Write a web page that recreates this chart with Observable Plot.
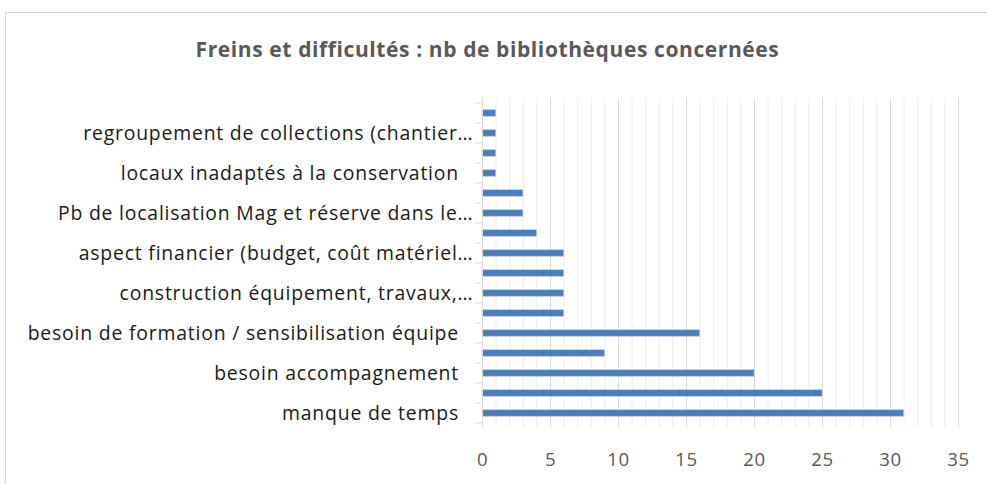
<!DOCTYPE html>
<html>
<head>
<meta charset="utf-8">
<script src="https://cdn.jsdelivr.net/npm/d3@7"></script>
<script src="https://cdn.jsdelivr.net/npm/@observablehq/plot@0.6"></script>
<style>
  html, body { margin: 0; padding: 0; background: #fff; overflow: hidden; width: 987px; height: 484px; }
  .edge { position: absolute; background: #d9d9d9; z-index: 5; pointer-events: none; }
  #edgeTop { left: 5px; top: 12px; width: 982px; height: 1px; }
  #edgeLeft { left: 5px; top: 12px; width: 1px; height: 472px; }
  #title { position: absolute; left: 0; top: 0; width: 987px; height: 88px; box-sizing: border-box; padding-top: 35px; padding-right: 12px; text-align: center; font-family: "Open Sans", sans-serif; font-weight: bold; font-size: 21px; letter-spacing: 0.6px; color: #595959; line-height: 28px; }
  #chart { position: absolute; left: 8px; top: 88px; }
  #chart svg [aria-label="y-axis tick label"] text { letter-spacing: 0.8px; }
  #chart svg [aria-label="x-axis tick label"] text { letter-spacing: 0.6px; }
</style>
</head>
<body>
<div id="title">Freins et difficultés : nb de bibliothèques concernées</div>
<div id="chart"></div>
<div class="edge" id="edgeTop"></div>
<div class="edge" id="edgeLeft"></div>
<script>
// Categories in Excel order (bottom to top). Only every other one is labelled in the picture.
const categories = [
  "manque de temps\u2002\u2009",
  "(catégorie 2)",
  "besoin accompagnement\u2002\u2009",
  "(catégorie 4)",
  "besoin de formation / sensibilisation équipe\u2002\u2009",
  "(catégorie 6)",
  "construction équipement, travaux,…",
  "(catégorie 8)",
  "aspect financier (budget, coût matériel…",
  "(catégorie 10)",
  "Pb de localisation Mag et réserve dans le…",
  "(catégorie 12)",
  "locaux inadaptés à la conservation\u2002\u2009",
  "(catégorie 14)",
  "regroupement de collections (chantier…",
  "(catégorie 16)"
];
const values = [31, 25, 20, 9, 16, 6, 6, 6, 6, 4, 3, 3, 1, 1, 1, 1];
const labelledCategories = categories.filter((d, i) => i % 2 === 0);
const xTicks = [0, 5, 10, 15, 20, 25, 30, 35];
const minorGrid = d3.range(0, 36);

const data = categories.map((c, i) => ({category: c, value: values[i]}));

const W = 979, H = 396;
const mTop = 10, mBottom = 57, mLeft = 474, mRight = 29;

const chart = Plot.plot({
  width: W,
  height: H,
  marginTop: mTop,
  marginBottom: mBottom,
  marginLeft: mLeft,
  marginRight: mRight,
  style: {fontFamily: "'Open Sans', sans-serif", background: "none", overflow: "visible"},
  x: {domain: [0, 35]},
  y: {domain: categories.slice().reverse(), padding: 0},
  marks: [
    Plot.ruleX(minorGrid.filter(d => d % 5 !== 0), {stroke: "#ececec", strokeWidth: 1}),
    Plot.ruleX(xTicks.filter(d => d !== 0), {stroke: "#d9d9d9", strokeWidth: 1}),
    Plot.barX(data, {x: "value", y: "category", fill: "#4a7ebb", stroke: "#a9c1e0", strokeWidth: 0.6, insetTop: 6.8, insetBottom: 6.8}),
    Plot.ruleX([0], {stroke: "#d9d9d9", strokeWidth: 1}),
    Plot.axisX({ticks: xTicks, tickSize: 0, tickPadding: 25, fontSize: 18.6, color: "#595959", label: null}),
    Plot.axisY({ticks: labelledCategories, tickSize: 0, tickPadding: 9, fontSize: 19.4, color: "#1a1a1a", label: null}),
    // small tick marks at the band boundaries, left of the category axis
    Plot.ruleY(categories, {y: d => d, render: (index, scales) => {
      const g = d3.create("svg:g").attr("stroke", "#d9d9d9");
      const x0 = scales.x(0);
      const ys = categories.map(c => scales.y(c)).concat([scales.y(categories[0]) + scales.y.bandwidth()]);
      for (const y of ys) {
        g.append("line").attr("x1", x0 - 7).attr("x2", x0).attr("y1", y).attr("y2", y);
      }
      return g.node();
    }})
  ]
});
document.getElementById("chart").appendChild(chart);
</script>
</body>
</html>
